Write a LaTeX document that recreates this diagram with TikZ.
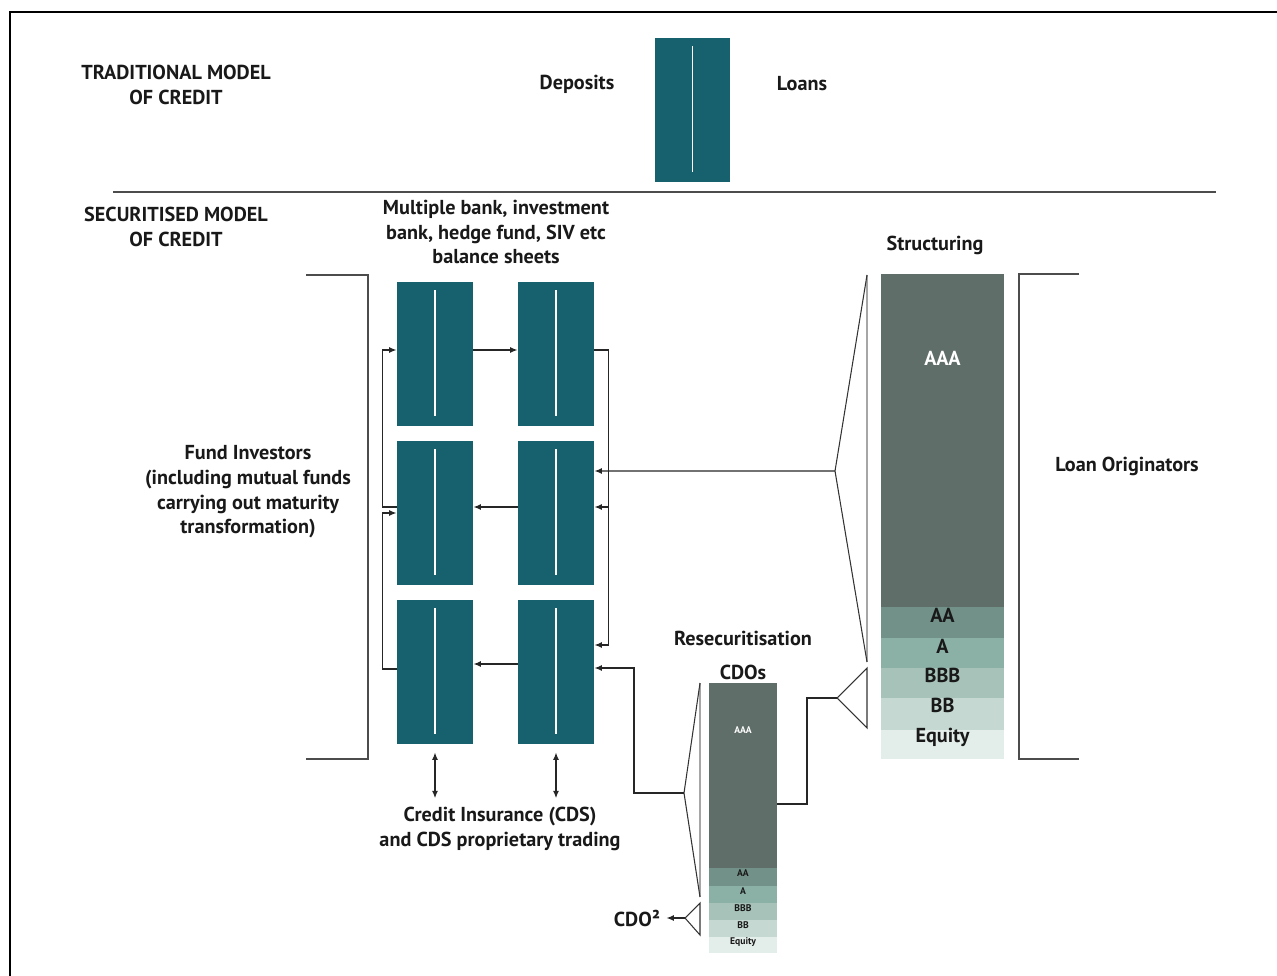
\documentclass[tikz,border=0pt]{standalone}
\usepackage{fontspec}
\setmainfont{PT Sans}
\usetikzlibrary{positioning,arrows.meta}

\definecolor{bankteal}{RGB}{23,96,110}
\definecolor{trAAA}{RGB}{96,110,106}
\definecolor{trAA}{RGB}{114,145,137}
\definecolor{trA}{RGB}{139,176,166}
\definecolor{trBBB}{RGB}{166,194,185}
\definecolor{trBB}{RGB}{197,216,210}
\definecolor{trEq}{RGB}{227,237,233}

\begin{document}
\begin{tikzpicture}[
  x=0.02cm, y=-0.02cm,
  font=\bfseries\fontsize{11.5}{14}\selectfont,
  bank/.style={
    fill=bankteal, inner sep=0pt,
    minimum width=1.52cm, minimum height=2.88cm,
    path picture={\draw[white, line width=0.8pt]
      ([yshift=-0.16cm]path picture bounding box.north) --
      ([yshift=0.2cm]path picture bounding box.south);},
  },
  sband/.style={minimum width=2.46cm, inner sep=0pt, outer sep=0pt},
  cband/.style={minimum width=1.36cm, inner sep=0pt, outer sep=0pt},
  slab/.style={inner sep=0pt, text=black!90},
  clab/.style={inner sep=0pt, font=\bfseries\fontsize{5.5}{6}\selectfont, text=black!90},
  txt/.style={align=center, text=black!90},
  arr/.style={-{Latex[length=1.5mm,width=1.2mm]}, line width=0.8pt, color=black!85},
  dbl/.style={{Latex[length=1.5mm,width=1.2mm]}-{Latex[length=1.5mm,width=1.2mm]}, line width=0.8pt, color=black!85},
  link/.style={line width=0.8pt, color=black!85},
  fan/.style={line width=0.6pt, color=black!80},
  spine/.style={line width=1.2pt, color=black!35},
  brk/.style={line width=0.9pt, color=black!70},
]

\useasboundingbox (0,0) rectangle (1277,976);
\draw[line width=1.6pt] (10,976) -- (10,12) -- (1277,12);
\draw[line width=0.8pt, color=black!70] (113,192) -- (1216,192);

% traditional model
\node[txt] (trad) at (176,85) {TRADITIONAL MODEL\\OF CREDIT};
\node[bank, minimum width=1.5cm] (tbank) at (692.5,110) {};
\node[txt] (dep) at (577,84) {Deposits};
\node[txt] (loans) at (802,84) {Loans};

% securitised model
\node[txt] (sec) at (176,227) {SECURITISED MODEL\\OF CREDIT};
\node[txt] (multi) at (496,232) {Multiple bank, investment\\bank, hedge fund, SIV etc\\balance sheets};

\node[bank] (b11) at (435,354) {};
\node[bank] (b12) at (435,513) {};
\node[bank] (b13) at (435,672) {};
\node[bank] (b21) at (556,354) {};
\node[bank] (b22) at (556,513) {};
\node[bank] (b23) at (556,672) {};

\draw[arr] ([yshift=0.08cm]b11.east) -- ([yshift=0.08cm]b21.west);
\draw[arr] ([yshift=0.12cm]b22.west) -- ([yshift=0.12cm]b12.east);
\draw[arr] ([yshift=0.16cm]b23.west) -- ([yshift=0.16cm]b13.east);
\draw[arr] ([yshift=0.12cm]b12.west) -- ++(-14,0) |- ([yshift=0.08cm]b11.west);
\draw[arr] ([yshift=0.06cm]b13.west) -- ++(-14,0) |- (b12.west);
\draw[arr] ([yshift=0.08cm]b21.east) -- ++(14,0) coordinate (rj) |- ([yshift=0.54cm]b23.east);
\coordinate (r2) at ([yshift=0.12cm]b22.east);
\draw[arr] (r2 -| rj) -- (r2);

% fund investors
\draw[brk] (306,275) -- (368,275) -- (368,759) -- (306,759);
\node[txt] (fund) at (248,492) {Fund Investors\\(including mutual funds\\carrying out maturity\\transformation)};

% credit insurance
\node[txt] (cds) at (500,829) {Credit Insurance (CDS)\\and CDS proprietary trading};
\draw[dbl] ([yshift=-0.16cm]b13.south) -- ([yshift=-1.08cm]b13.south);
\draw[dbl] ([yshift=-0.16cm]b23.south) -- ([yshift=-1.08cm]b23.south);

% structuring
\node[txt] (struct) at (935,245) {Structuring};
\node[sband, fill=trAAA, minimum height=6.66cm, anchor=north] (sAAA) at (942.5,274) {};
\node[sband, fill=trAA, minimum height=0.62cm, below=0pt of sAAA] (sAA) {};
\node[sband, fill=trA, minimum height=0.6cm, below=0pt of sAA] (sA) {};
\node[sband, fill=trBBB, minimum height=0.6cm, below=0pt of sA] (sBBB) {};
\node[sband, fill=trBB, minimum height=0.64cm, below=0pt of sBBB] (sBB) {};
\node[sband, fill=trEq, minimum height=0.58cm, below=0pt of sBB] (sEq) {};
\node[slab, text=white] (lsAAA) at ([yshift=-1.68cm]sAAA.north) {AAA};
\node[slab] (lsAA) at ([yshift=-0.16cm]sAA.north) {AA};
\node[slab] (lsA) at ([yshift=-0.16cm]sA.north) {A};
\node[slab] (lsBBB) at ([yshift=-0.16cm]sBBB.north) {BBB};
\node[slab] (lsBB) at ([yshift=-0.16cm]sBB.north) {BB};
\node[slab] (lsEq) at ([yshift=-0.14cm]sEq.north) {Equity};

\draw[spine] (867,275) -- (867,662);
\draw[fan] (867,275) -- (835,471) coordinate (sapex) -- (867,662);
\draw[arr] (sapex) -- ([yshift=0.84cm]b22.east);
\draw[fan] (867,668) -- (837,698) coordinate (tapex) -- (867,728) -- cycle;

% loan originators
\draw[brk] (1079,274) -- (1019,274) -- (1019,759) -- (1079,759);
\node[txt] (orig) at (1127,466) {Loan Originators};

% resecuritisation
\node[txt] (resec) at (743,638) {Resecuritisation};
\node[txt] (cdos) at (743,672) {CDOs};
\node[cband, fill=trAAA, minimum height=3.7cm, anchor=north] (cAAA) at (743,683) {};
\node[cband, fill=trAA, minimum height=0.36cm, below=0pt of cAAA] (cAA) {};
\node[cband, fill=trA, minimum height=0.34cm, below=0pt of cAA] (cA) {};
\node[cband, fill=trBBB, minimum height=0.34cm, below=0pt of cA] (cBBB) {};
\node[cband, fill=trBB, minimum height=0.34cm, below=0pt of cBBB] (cBB) {};
\node[cband, fill=trEq, minimum height=0.32cm, below=0pt of cBB] (cEq) {};
\node[clab, text=white] (lcAAA) at ([yshift=-0.94cm]cAAA.north) {AAA};
\node[clab] (lcAA) at ([yshift=-0.11cm]cAA.north) {AA};
\node[clab] (lcA) at ([yshift=-0.11cm]cA.north) {A};
\node[clab] (lcBBB) at ([yshift=-0.11cm]cBBB.north) {BBB};
\node[clab] (lcBB) at ([yshift=-0.11cm]cBB.north) {BB};
\node[clab] (lcEq) at ([yshift=-0.11cm]cEq.north) {Equity};

\draw[link] (tapex) -- ++(-30,0) |- ([yshift=-0.57cm]cAAA.east);

\draw[spine] (700,683) -- (700,897);
\draw[fan] (700,683) -- (684,793) coordinate (capex) -- (700,897);
\draw[arr] (capex) -- ++(-50,0) |- ([yshift=0.08cm]b23.east);
\draw[fan] (700,903) -- (685,918) coordinate (c2apex) -- (700,935) -- cycle;
\node[txt] (cdo2) at (637,918) {CDO²};
\draw[arr] (c2apex) -- (cdo2.east);

\end{tikzpicture}
\end{document}
